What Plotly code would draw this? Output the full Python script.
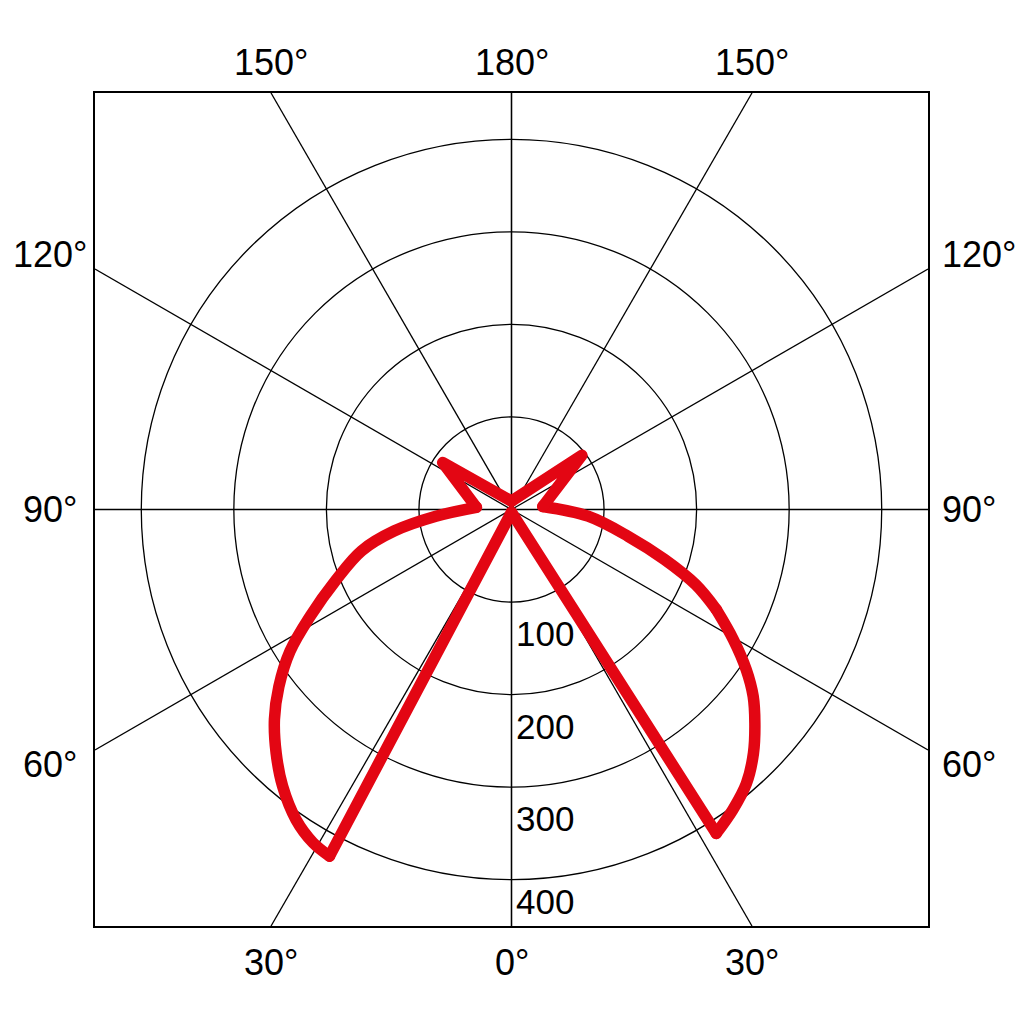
import numpy as np
import plotly.graph_objects as go

# Luminous intensity distribution (gamma angle in degrees, intensity)
left_gamma = [0, 27.7, 30.8, 34.8, 39.6, 44.0, 48.5, 52.7, 57.4, 62.1, 68.0, 74.6, 79.6, 84.9, 93.5, 124.3, 180]
left_intensity = [3, 423, 419, 408, 388, 366, 342, 316, 284, 246, 205, 168, 129, 82, 38, 90, 9]

right_gamma = [0, 32.3, 36.4, 40.6, 44.8, 48.7, 52.3, 55.7, 59.6, 64.0, 67.8, 71.9, 77.1, 85.0, 95.5, 127.6, 180]
right_intensity = [3, 414, 403, 390, 371, 350, 330, 307, 278, 246, 215, 174, 129, 83, 34, 96, 9]
right_kink_gamma = 64.0

grid_radii = [100, 200, 300, 400]
radial_tick_labels = ["100", "200", "300", "400"]
spoke_angles = [0, 30, 60, 90, 120, 150, 180]
spoke_labels = ["0°", "30°", "60°", "90°", "120°", "150°", "180°"]

R = 450  # half-extent of the square frame in intensity units
RED = "#E30613"
LW = 11.5
FONT = "Liberation Sans, Arial, sans-serif"


def to_xy(gamma, intensity, side):
    g = np.radians(np.asarray(gamma, dtype=float))
    i = np.asarray(intensity, dtype=float)
    return side * i * np.sin(g), -i * np.cos(g)


def px(v):  # data value -> paper fraction
    return (v + R) / (2 * R)


def half_pieces(gamma, intensity, side, kinks=()):
    """Split one half-curve into straight parts and smooth arc parts."""
    gamma = np.asarray(gamma, dtype=float)
    inten = np.asarray(intensity, dtype=float)
    x, y = to_xy(gamma, inten, side)
    peak = int(np.argmax(inten))
    mid = np.where((gamma > 60) & (gamma < 120))[0]
    valley = int(mid[np.argmin(inten[mid])])
    breaks = [peak] + [int(np.argmin(np.abs(gamma - k))) for k in kinks] + [valley]
    pieces = [(x[:peak + 1], y[:peak + 1], "linear")]
    for a, b in zip(breaks[:-1], breaks[1:]):
        pieces.append((x[a:b + 1], y[a:b + 1], "spline"))
    pieces.append((x[valley:], y[valley:], "linear"))
    return pieces


fig = go.Figure()

shapes = []
for r in grid_radii:
    shapes.append(dict(type="circle", xref="x", yref="y", x0=-r, y0=-r, x1=r, y1=r,
                       line=dict(color="black", width=1.3), layer="below"))
for a in spoke_angles:
    for side in (-1, 1):
        g = np.radians(a)
        dx, dy = side * np.sin(g), -np.cos(g)
        t = R / max(abs(dx), abs(dy))
        shapes.append(dict(type="line", xref="x", yref="y", x0=0, y0=0, x1=t * dx, y1=t * dy,
                           line=dict(color="black", width=1.3), layer="below"))

pieces = half_pieces(left_gamma, left_intensity, -1) + \
    half_pieces(right_gamma, right_intensity, 1, kinks=(right_kink_gamma,))
for x, y, shape in pieces:
    fig.add_trace(go.Scatter(x=x, y=y, mode="lines",
                             line=dict(color=RED, width=LW, shape=shape, smoothing=1.0),
                             hoverinfo="skip", showlegend=False))

afont = dict(size=36, color="black", family=FONT)
annotations = []
for a, lab in zip(spoke_angles, spoke_labels):
    g = np.radians(a)
    sides = (0,) if a in (0, 180) else (-1, 1)
    for side in sides:
        s = side if side != 0 else 1
        dx, dy = s * np.sin(g), -np.cos(g)
        if a in (0, 30, 150, 180):
            y = R + 33 if dy > 0 else -R - 39
            x = (dx / abs(dy)) * R if side != 0 else 0
            annotations.append(dict(x=px(x), y=px(y), xref="paper", yref="paper", text=lab,
                                    showarrow=False, xanchor="center", yanchor="middle", font=afont))
        else:
            y = (dy / abs(dx)) * R * 1.06
            if side < 0:
                annotations.append(dict(x=px(-499), y=px(y), xref="paper", yref="paper", text=lab,
                                        showarrow=False, xanchor="center", yanchor="middle", font=afont))
            else:
                annotations.append(dict(x=px(463), y=px(y), xref="paper", yref="paper", text=lab,
                                        showarrow=False, xanchor="left", yanchor="middle", font=afont))

for r, lab in zip(grid_radii, radial_tick_labels):
    y = -min(r + 34, R - 27)
    annotations.append(dict(x=px(3), y=px(y), xref="paper", yref="paper", text=lab, showarrow=False,
                            xanchor="left", yanchor="middle",
                            font=dict(size=35, color="black", family=FONT)))

axis_common = dict(range=[-R, R], showgrid=False, zeroline=False, showticklabels=False,
                   ticks="", showline=True, mirror=True, linecolor="black", linewidth=1.5,
                   fixedrange=True)

fig.update_layout(
    width=1024, height=1024,
    margin=dict(l=87, r=104, t=85, b=106),
    paper_bgcolor="white", plot_bgcolor="white",
    xaxis=dict(**axis_common),
    yaxis=dict(**axis_common),
    shapes=shapes, annotations=annotations, showlegend=False,
)

style_js = ("var s=document.createElement('style');"
            "s.innerHTML='.js-line{stroke-linejoin:round !important;stroke-linecap:round !important;}';"
            "document.head.appendChild(s);")
fig.write_html("out.html", post_script=style_js)
